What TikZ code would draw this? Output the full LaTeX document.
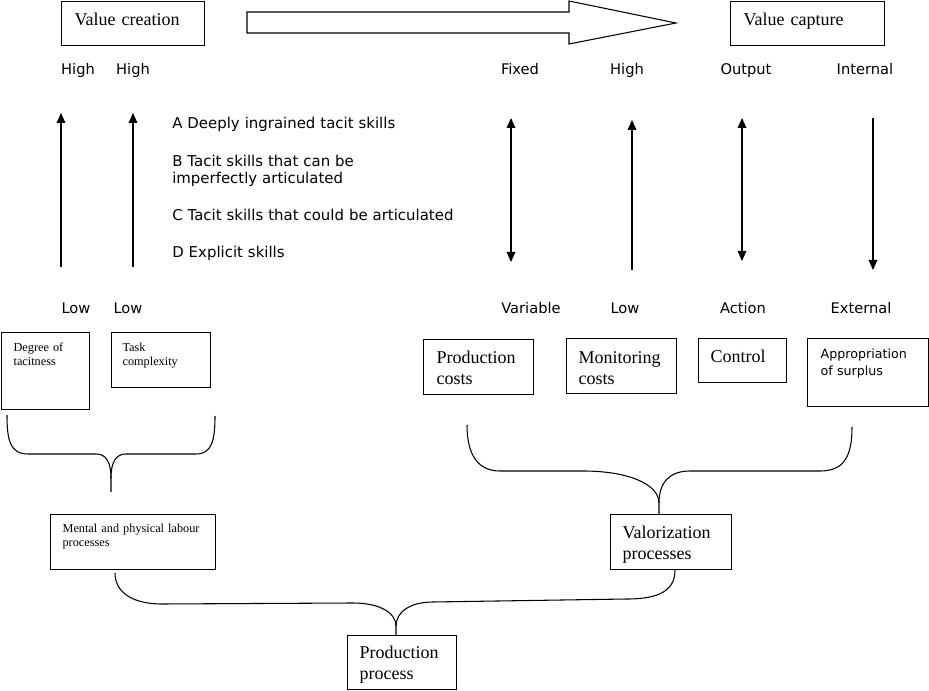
\documentclass[tikz,border=0pt]{standalone}
\usepackage{fontspec}
\setmainfont{Liberation Serif}
\setsansfont{DejaVu Sans}
\usetikzlibrary{arrows.meta}

\begin{document}
\begin{tikzpicture}[x=0.75pt, y=-0.75pt,
  box/.style = {shape=rectangle, draw, line width=0.9pt, anchor=north west, inner ysep=0pt, align=left},
  big/.style = {font=\fontsize{13.5}{15.75}\selectfont},
  small/.style = {font=\fontsize{9.2}{10.5}\selectfont},
  smallsf/.style = {font=\sffamily\fontsize{9.5}{12.5}\selectfont},
  lbl/.style = {font=\sffamily\fontsize{11}{13}\selectfont, anchor=base, inner sep=0pt},
  skill/.style = {font=\sffamily\fontsize{11.2}{12.75}\selectfont, anchor=base west, inner sep=0pt, align=left, text width=230pt},
  arr/.style = {line width=0.9pt, -{Triangle[length=7.5pt, width=6.5pt]}},
  arrboth/.style = {line width=0.9pt, {Triangle[length=7.5pt, width=6.5pt]}-{Triangle[length=7.5pt, width=6.5pt]}},
  brace/.style = {line width=0.8pt}]
  \useasboundingbox (0,0) rectangle (929,691);

  % top row
  \node[box, big, inner xsep=9.75pt, text width=87.75pt, text height=18pt, text depth=15pt] (create) at (61,1) {Value creation};
  \node[box, big, inner xsep=9.75pt, text width=96pt, text height=18pt, text depth=15pt] (capture) at (730,1) {Value capture};
  \draw[line width=0.8pt] (247,12) -- (569,12) -- (569,1) -- (676,23) -- (569,44) -- (569,33) -- (247,33) -- cycle;

  % scale labels
  \node[lbl] (hiA) at (78,75) {High};
  \node[lbl] (hiB) at (133,75) {High};
  \node[lbl] (fixed) at (520,75) {Fixed};
  \node[lbl] (hiC) at (627,75) {High};
  \node[lbl] (output) at (746,75) {Output};
  \node[lbl] (internal) at (865,75) {Internal};
  \node[lbl] (loA) at (76,314) {Low};
  \node[lbl] (loB) at (128,314) {Low};
  \node[lbl] (variable) at (531,314) {Variable};
  \node[lbl] (loC) at (625,314) {Low};
  \node[lbl] (action) at (743,314) {Action};
  \node[lbl] (external) at (861,314) {External};

  % skills
  \node[skill] (skillA) at (172,129) {A Deeply ingrained tacit skills};
  \node[skill] (skillB) at (172,167) {B Tacit skills that can be\\imperfectly articulated};
  \node[skill] (skillC) at (172,221) {C Tacit skills that could be articulated};
  \node[skill] (skillD) at (172,258) {D Explicit skills};

  % arrows
  \coordinate (tacitLo) at (61,267);  \coordinate (tacitHi) at (61,113);
  \coordinate (taskLo) at (133,267);  \coordinate (taskHi) at (133,113);
  \coordinate (costLo) at (511,262);  \coordinate (costHi) at (511,118);
  \coordinate (monLo) at (632,270);   \coordinate (monHi) at (632,120);
  \coordinate (ctrlLo) at (742,261);  \coordinate (ctrlHi) at (742,118);
  \coordinate (surpLo) at (873,270);  \coordinate (surpHi) at (873,118);
  \draw[arr] (tacitLo) -- (tacitHi);
  \draw[arr] (taskLo) -- (taskHi);
  \draw[arrboth] (costLo) -- (costHi);
  \draw[arr] (monLo) -- (monHi);
  \draw[arrboth] (ctrlLo) -- (ctrlHi);
  \draw[arr] (surpHi) -- (surpLo);

  % boxes
  \node[box, small, inner xsep=9pt, text width=48pt, text height=14.25pt, text depth=43.5pt] (tacit) at (1,332) {Degree of\\tacitness};
  \node[box, small, inner xsep=8.25pt, text width=57.75pt, text height=14.25pt, text depth=27pt] (task) at (111,332) {Task\\complexity};
  \node[box, small, inner xsep=9pt, text width=105.75pt, text height=13.5pt, text depth=27.75pt] (labour) at (50,514) {Mental and physical labour\\processes};
  \node[box, big, inner xsep=9.75pt, text width=63pt, text height=18pt, text depth=23.25pt] (prodcost) at (423,339) {Production\\costs};
  \node[box, big, inner xsep=9pt, text width=64.5pt, text height=18.75pt, text depth=22.5pt] (moncost) at (566,338) {Monitoring\\costs};
  \node[box, big, inner xsep=9pt, text width=48pt, text height=18pt, text depth=15pt] (control) at (698,338) {Control};
  \node[box, smallsf, inner xsep=9.75pt, text width=71.25pt, text height=15pt, text depth=36pt] (surplus) at (807,338) {Appropriation\\of surplus};
  \node[box, big, inner xsep=9pt, text width=72.75pt, text height=18pt, text depth=23.25pt] (valor) at (610,514) {Valorization\\processes};
  \node[box, big, inner xsep=9pt, text width=63.75pt, text height=17.25pt, text depth=23.25pt] (prodproc) at (347,635) {Production\\process};

  % braces
  \coordinate (lbL) at (7,415);   \coordinate (lbR) at (215,416);  \coordinate (lbTip) at (111,492);
  \coordinate (vbL) at (467,425); \coordinate (vbR) at (852,427);  \coordinate (vbTip) at (659,514);
  \coordinate (pbL) at (115,573); \coordinate (pbR) at (675,570);  \coordinate (pbTip) at (396,635);
  \draw[brace] (lbL) .. controls (7,440) and (10,454) .. (28,454) -- (96,454) .. controls (106,454) and (111,462) .. (111,478) -- (lbTip);
  \draw[brace] (lbR) .. controls (215,440) and (212,454) .. (196,454) -- (126,454) .. controls (116,454) and (111,462) .. (111,478);
  \draw[brace] (vbL) .. controls (467,455) and (478,471) .. (500,471) -- (583,471) .. controls (630,471) and (659,485) .. (659,503) -- (vbTip);
  \draw[brace] (vbR) .. controls (852,455) and (845,471) .. (820,471) -- (690,471) .. controls (670,471) and (659,482) .. (659,503);
  \draw[brace] (pbL) .. controls (115,592) and (132,604) .. (162,604) -- (353,603) .. controls (380,603) and (396,613) .. (396,626) -- (pbTip);
  \draw[brace] (pbR) .. controls (675,590) and (660,599) .. (627,599) -- (433,602) .. controls (410,602) and (396,612) .. (396,626);
\end{tikzpicture}
\end{document}
